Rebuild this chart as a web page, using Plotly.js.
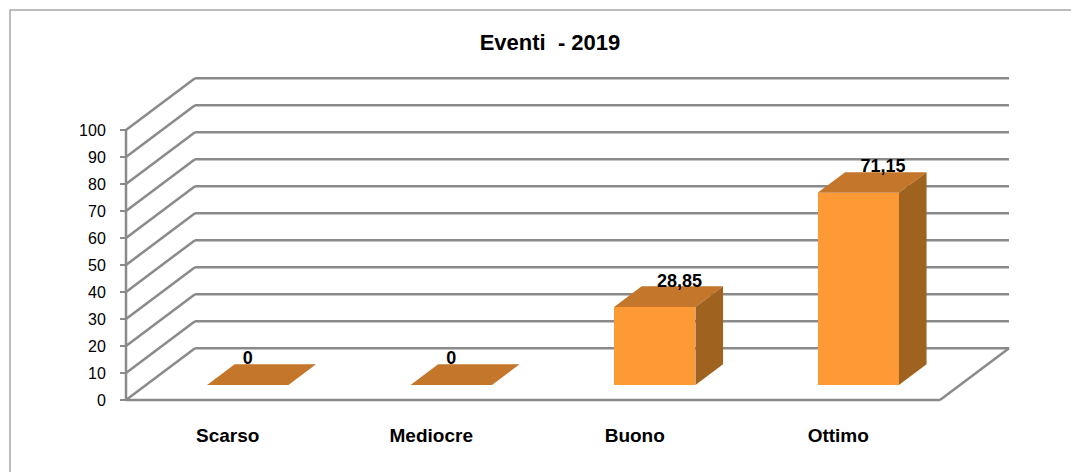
<!DOCTYPE html>
<html>
<head>
<meta charset="utf-8">
<script src="https://cdn.plot.ly/plotly-3.0.1.min.js"></script>
<style>
  html, body { margin: 0; padding: 0; background: #fff; }
  #chart { width: 1071px; height: 472px; }
</style>
</head>
<body>
<div id="chart"></div>
<script>
// ---- data ----
const categories = ['Scarso', 'Mediocre', 'Buono', 'Ottimo'];
const values = [0, 0, 28.85, 71.15];
const yTicks = [0, 10, 20, 30, 40, 50, 60, 70, 80, 90, 100];
const chartTitle = 'Eventi\u00a0 - 2019';

// ---- 3D look (oblique projection in data units) ----
const DX = 0.339, DY = 19.2;     // full depth of the box
const F1 = 0.29, F2 = 0.69;      // depth of bar front / back faces
const W = 0.4;                   // bar width (category units)
const X0 = -0.5, X1 = categories.length - 0.5;
const yMax = yTicks[yTicks.length - 1];

const colFront = '#FD9A35', colTop = '#C4762A', colSide = '#A0621F';
const gridCol = '#8a8a8a';

const catIdx = categories.map((_, i) => i);
const fmt = v => String(v).replace('.', ',');

// gridline shapes
const shapes = [];
const line = (x0, y0, x1, y1) => shapes.push({
  type: 'line', xref: 'x', yref: 'y', x0, y0, x1, y1, layer: 'below',
  line: { color: gridCol, width: 2.5 }
});
yTicks.forEach(t => {
  line(X0 + DX, t + DY, X1 + DX, t + DY);   // back wall
  line(X0, t, X0 + DX, t + DY);             // side wall
});
line(X0, 0, X0, yMax);                       // front vertical axis
line(X0, 0, X1, 0);                          // floor front edge
line(X1, 0, X1 + DX, DY);                    // floor right edge
// chart frame
shapes.push({ type: 'rect', xref: 'paper', yref: 'paper',
  x0: 10 / 1071, x1: 1.02, y0: -0.02, y1: 1 - 10 / 472,
  line: { color: '#a8a8a8', width: 1.5 }, fillcolor: 'rgba(0,0,0,0)', layer: 'below' });

// bar faces
const fx = catIdx.map(i => i + F1 * DX);
const baseY = F1 * DY;
const dx = (F2 - F1) * DX, dy = (F2 - F1) * DY;

const front = {
  type: 'bar', x: fx, y: values, base: values.map(() => baseY), width: W,
  marker: { color: colFront, line: { width: 0 } }, hoverinfo: 'skip'
};

const topX = [], topY = [], sideX = [], sideY = [];
catIdx.forEach(i => {
  const v = values[i], l = fx[i] - W / 2, r = fx[i] + W / 2, b = baseY, t = baseY + v;
  topX.push(l, r, r + dx, l + dx, l, null);
  topY.push(t, t, t + dy, t + dy, t, null);
  if (v > 0) {
    sideX.push(r, r + dx, r + dx, r, r, null);
    sideY.push(b, b + dy, t + dy, t, b, null);
  }
});
const topFace = { type: 'scatter', mode: 'lines', x: topX, y: topY, fill: 'toself',
  fillcolor: colTop, line: { width: 0, color: colTop }, hoverinfo: 'skip' };
const sideFace = { type: 'scatter', mode: 'lines', x: sideX, y: sideY, fill: 'toself',
  fillcolor: colSide, line: { width: 0, color: colSide }, hoverinfo: 'skip' };

const labels = {
  type: 'scatter', mode: 'text',
  x: catIdx.map(i => fx[i] + (values[i] > 0 ? dx * 0.9 : 0)),
  y: values.map(v => F2 * DY + v + 1.6),
  text: values.map(fmt), textposition: 'middle center',
  textfont: { family: 'Liberation Sans, Arial, sans-serif', size: 18, color: '#000', weight: 'bold' },
  hoverinfo: 'skip'
};

const pxX = 203.5, pxY = 2.7;
const layout = {
  width: 1071, height: 472,
  margin: { l: 0, r: 0, t: 0, b: 0 },
  paper_bgcolor: '#fff', plot_bgcolor: 'rgba(0,0,0,0)',
  showlegend: false,
  title: { text: chartTitle, x: 550 / 1071, xanchor: 'center', y: 1 - 42 / 472, yanchor: 'middle',
    font: { family: 'Liberation Sans, Arial, sans-serif', size: 22, color: '#000', weight: 'bold' } },
  xaxis: {
    range: [X0 - 126 / pxX, X0 + (1071 - 126) / pxX],
    tickvals: catIdx, ticktext: categories,
    anchor: 'free', position: 72 / 472,
    showgrid: false, zeroline: false, showline: false,
    ticks: 'outside', ticklen: 18, tickcolor: 'rgba(0,0,0,0)',
    tickfont: { family: 'Liberation Sans, Arial, sans-serif', size: 19, color: '#000', weight: 'bold' },
    fixedrange: true
  },
  yaxis: {
    range: [-72 / pxY, 400 / pxY],
    tickvals: yTicks, ticktext: yTicks.map(String),
    anchor: 'free', position: 126 / 1071,
    showgrid: false, zeroline: false, showline: false,
    ticks: 'outside', ticklen: 6, tickwidth: 2.5, tickcolor: gridCol,
    ticklabelstandoff: 11,
    tickfont: { family: 'Liberation Sans, Arial, sans-serif', size: 16, color: '#000' },
    fixedrange: true
  },
  shapes: shapes,
  bargap: 0
};

Plotly.newPlot('chart', [front, topFace, sideFace, labels], layout, { displayModeBar: false, staticPlot: true });
</script>
</body>
</html>
